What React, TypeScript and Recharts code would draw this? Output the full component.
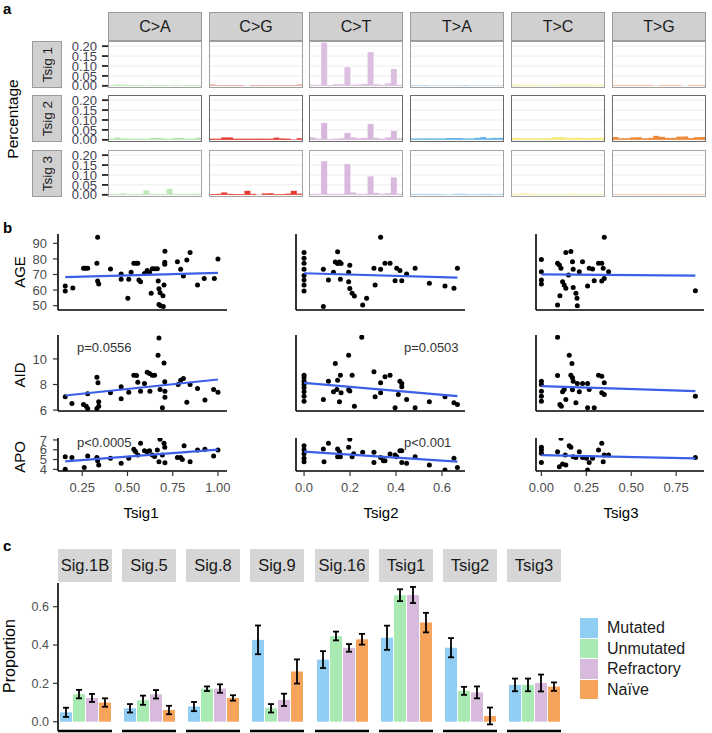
import React from "react";
import { BarChart, Bar, XAxis, YAxis, CartesianGrid, ScatterChart, Scatter, ErrorBar } from "recharts";

const FONT = "'Liberation Sans', Arial, Helvetica, sans-serif";
const TICK = "#4d4d4d";

// ---------------- Panel a data ----------------
const mutationTypes = ["C>A", "C>G", "C>T", "T>A", "T>C", "T>G"];
const signatureRows = ["Tsig 1", "Tsig 2", "Tsig 3"];
const flankBases = ["A", "C", "G", "T"];
const percentTicks = [0, 0.05, 0.1, 0.15, 0.2];

const tsig1CA = [0.005, 0.008, 0.007, 0.005, 0.005, 0.005, 0.002, 0.005, 0.005, 0.005, 0.002, 0.005, 0.002, 0.005, 0.005, 0.005];
const tsig1CG = [0.007, 0.004, 0.004, 0.004, 0.004, 0.004, 0.0, 0.004, 0.004, 0.004, 0.004, 0.004, 0.004, 0.004, 0.004, 0.007];
const tsig1CT = [0.006, 0.005, 0.218, 0.004, 0.008, 0.008, 0.094, 0.006, 0.007, 0.01, 0.17, 0.008, 0.005, 0.012, 0.085, 0.005];
const tsig1TA = [0.004, 0.004, 0.004, 0.002, 0.002, 0.002, 0.002, 0.002, 0.002, 0.004, 0.002, 0.002, 0.002, 0.002, 0.002, 0.002];
const tsig1TC = [0.006, 0.006, 0.006, 0.006, 0.004, 0.003, 0.003, 0.004, 0.006, 0.006, 0.006, 0.006, 0.006, 0.006, 0.005, 0.006];
const tsig1TG = [0.005, 0.005, 0.005, 0.005, 0.005, 0.005, 0.005, 0.0, 0.005, 0.005, 0.005, 0.005, 0.0, 0.005, 0.005, 0.005];

const tsig2CA = [0.006, 0.011, 0.007, 0.006, 0.006, 0.006, 0.005, 0.009, 0.01, 0.007, 0.005, 0.009, 0.01, 0.006, 0.006, 0.011];
const tsig2CG = [0.006, 0.006, 0.012, 0.012, 0.006, 0.006, 0.006, 0.006, 0.006, 0.006, 0.006, 0.011, 0.007, 0.006, 0.002, 0.008];
const tsig2CT = [0.012, 0.006, 0.085, 0.004, 0.006, 0.008, 0.035, 0.012, 0.008, 0.01, 0.08, 0.01, 0.006, 0.012, 0.045, 0.008];
const tsig2TA = [0.007, 0.007, 0.007, 0.007, 0.007, 0.007, 0.009, 0.009, 0.009, 0.007, 0.007, 0.01, 0.014, 0.008, 0.01, 0.01];
const tsig2TC = [0.01, 0.009, 0.008, 0.008, 0.008, 0.008, 0.009, 0.013, 0.014, 0.011, 0.01, 0.011, 0.009, 0.01, 0.01, 0.011];
const tsig2TG = [0.014, 0.008, 0.008, 0.012, 0.013, 0.008, 0.01, 0.02, 0.015, 0.01, 0.01, 0.016, 0.017, 0.009, 0.013, 0.014];

const tsig3CA = [0.005, 0.005, 0.007, 0.003, 0.004, 0.005, 0.022, 0.005, 0.004, 0.005, 0.03, 0.005, 0.004, 0.004, 0.005, 0.006];
const tsig3CG = [0.004, 0.005, 0.012, 0.005, 0.004, 0.004, 0.02, 0.005, 0.001, 0.007, 0.008, 0.004, 0.004, 0.006, 0.02, 0.006];
const tsig3CT = [0.005, 0.005, 0.17, 0.005, 0.005, 0.005, 0.155, 0.012, 0.005, 0.005, 0.093, 0.01, 0.005, 0.008, 0.088, 0.006];
const tsig3TA = [0.005, 0.005, 0.005, 0.005, 0.005, 0.004, 0.002, 0.005, 0.006, 0.005, 0.003, 0.004, 0.005, 0.005, 0.003, 0.005];
const tsig3TC = [0.005, 0.006, 0.008, 0.005, 0.004, 0.004, 0.004, 0.004, 0.004, 0.004, 0.006, 0.004, 0.004, 0.004, 0.004, 0.004];
const tsig3TG = [0.004, 0.004, 0.004, 0.004, 0.004, 0.004, 0.004, 0.004, 0.004, 0.004, 0.004, 0.004, 0.004, 0.004, 0.004, 0.004];

const spectrumRows = [
  [tsig1CA, tsig1CG, tsig1CT, tsig1TA, tsig1TC, tsig1TG],
  [tsig2CA, tsig2CG, tsig2CT, tsig2TA, tsig2TC, tsig2TG],
  [tsig3CA, tsig3CG, tsig3CT, tsig3TA, tsig3TC, tsig3TG],
];

const spectrumColors = [
  ["#c3eabc", "#eda198", "#dcbfe0", "#abd4f2", "#f7f1a0", "#f4c2a4"],
  ["#b1e4aa", "#e2392e", "#d7b7db", "#63b2ea", "#f4ea7a", "#ef8836"],
  ["#bde8b6", "#e5392d", "#d9bade", "#a5d2f1", "#f7f1a0", "#f4c2a4"],
];
const rowBorder = ["#a0a0a0", "#6a6a6a", "#a4a4a4"];

// ---------------- Panel b data ----------------
const clinicalVars = ["AGE", "AID", "APO"];
const tsigNames = ["Tsig1", "Tsig2", "Tsig3"];

const ageTsig1 = [[0.156,62.6],[0.156,59.4],[0.198,61.3],[0.257,74],[0.269,74],[0.28,74],[0.335,93.9],[0.331,77.2],[0.335,65.8],[0.341,63.9],[0.406,73.5],[0.465,70.3],[0.465,67],[0.507,67],[0.52,71.4],[0.535,77.2],[0.548,77.2],[0.557,77.2],[0.502,54.7],[0.563,66.5],[0.572,65.4],[0.594,70.7],[0.609,72.5],[0.622,71.4],[0.637,73.7],[0.65,73.7],[0.665,73.7],[0.631,57.9],[0.67,65.8],[0.674,60.9],[0.68,58.3],[0.696,56.4],[0.674,50.8],[0.683,50],[0.698,49.4],[0.707,85],[0.706,77.8],[0.706,76.5],[0.702,63.3],[0.776,78.2],[0.794,73.3],[0.809,69],[0.828,79.3],[0.846,84.2],[0.887,63.3],[0.924,67.5],[0.98,67.5],[1.0,80]];
const aidTsig1 = [[0.156,7.04],[0.193,6.52],[0.257,6.44],[0.272,6.31],[0.28,6.13],[0.28,7.27],[0.331,6.13],[0.341,6.31],[0.331,8.57],[0.337,8.13],[0.341,6.65],[0.406,7.35],[0.465,7.82],[0.465,6.88],[0.507,7.4],[0.535,8.73],[0.55,8.7],[0.557,8.18],[0.572,7.48],[0.594,8.08],[0.609,8.96],[0.622,8.86],[0.637,8.73],[0.65,8.73],[0.624,7.48],[0.669,10.29],[0.674,11.64],[0.68,7.61],[0.693,6.18],[0.702,9.69],[0.706,8.21],[0.707,7.48],[0.707,7.01],[0.78,8.0],[0.794,8.34],[0.809,8.47],[0.828,6.62],[0.846,8.0],[0.887,7.69],[0.928,6.78],[0.976,7.61],[1.0,7.4]];
const apoTsig1 = [[0.156,5.29],[0.156,4.0],[0.193,5.22],[0.261,4.2],[0.28,5.36],[0.331,5.22],[0.335,4.88],[0.341,4.44],[0.406,5.12],[0.465,4.61],[0.507,5.12],[0.535,6.04],[0.544,5.81],[0.557,5.46],[0.572,6.66],[0.594,5.9],[0.609,5.8],[0.622,5.9],[0.637,5.46],[0.65,5.3],[0.665,5.98],[0.68,7.07],[0.674,4.78],[0.693,5.46],[0.702,6.66],[0.706,6.25],[0.707,4.68],[0.776,5.22],[0.794,5.22],[0.803,5.0],[0.813,6.42],[0.846,4.78],[0.887,5.98],[0.928,6.04],[0.976,5.36],[1.0,5.98]];

const ageTsig2 = [[0,84.2],[0,80.4],[0,77.2],[0,73.3],[0,69.3],[0,66.5],[0,63.3],[0,59.4],[0.084,73.3],[0.106,66.5],[0.128,71.4],[0.136,78],[0.146,84.6],[0.154,78],[0.161,77],[0.146,77],[0.158,67],[0.194,71.4],[0.199,76],[0.194,65.4],[0.199,61],[0.209,57.9],[0.219,56.2],[0.084,49.4],[0.255,50.4],[0.272,54.7],[0.304,74],[0.309,63.3],[0.333,93.9],[0.333,73.3],[0.352,77.2],[0.374,77.2],[0.396,66],[0.403,74],[0.417,72.5],[0.425,66],[0.446,70.3],[0.483,74],[0.545,64.3],[0.613,62.6],[0.652,61.1],[0.667,74]];
const aidTsig2 = [[0,8.73],[0,8.52],[0,8.26],[0,8.0],[0,7.74],[0,7.43],[0,7.09],[0,6.7],[0.084,6.83],[0.106,8.26],[0.128,7.43],[0.143,7.61],[0.146,8.34],[0.136,9.64],[0.158,8.73],[0.154,6.65],[0.161,7.35],[0.194,10.29],[0.194,7.6],[0.199,7.5],[0.209,8.73],[0.219,6.3],[0.251,11.7],[0.304,9.0],[0.333,8.13],[0.309,7.04],[0.333,7.35],[0.352,8.6],[0.374,8.73],[0.396,6.18],[0.417,8.26],[0.425,8.08],[0.425,7.82],[0.41,7.22],[0.446,6.83],[0.483,6.18],[0.545,6.65],[0.613,7.04],[0.652,6.57],[0.667,6.44]];
const apoTsig2 = [[0,6.42],[0,6.0],[0,5.6],[0,5.12],[0,4.78],[0.084,6.08],[0.087,4.78],[0.106,6.66],[0.146,5.29],[0.146,6.08],[0.154,5.8],[0.158,5.29],[0.194,6.25],[0.199,7.07],[0.209,5.29],[0.216,5.6],[0.255,5.74],[0.304,5.74],[0.304,4.71],[0.333,5.22],[0.345,4.88],[0.352,4.88],[0.374,5.57],[0.396,5.46],[0.403,5.29],[0.417,5.9],[0.425,5.9],[0.425,4.71],[0.446,4.61],[0.483,5.29],[0.545,4.44],[0.613,3.93],[0.652,5.12],[0.667,4.2]];

const ageTsig3 = [[0,79.7],[0,71.8],[0,66.5],[0,63.9],[0.09,77.2],[0.1,76.1],[0.109,74],[0.09,50.4],[0.103,56.4],[0.118,65.4],[0.127,63.3],[0.136,61.1],[0.136,84.2],[0.164,84.7],[0.151,69.7],[0.173,78.2],[0.177,73.3],[0.177,61.7],[0.192,57.9],[0.198,54.7],[0.2,50],[0.211,71.8],[0.229,78.2],[0.257,62.6],[0.266,74],[0.285,73.5],[0.294,66],[0.318,77.2],[0.336,77.2],[0.344,74],[0.336,65.8],[0.35,67.5],[0.35,93.9],[0.374,71.8],[0.857,59.6]];
const aidTsig3 = [[0,8.26],[0,8.0],[0,7.48],[0,7.09],[0,6.7],[0.09,11.69],[0.09,8.7],[0.103,6.44],[0.111,6.31],[0.118,7.43],[0.127,7.61],[0.136,6.83],[0.155,10.29],[0.17,9.64],[0.164,8.73],[0.173,8.52],[0.177,8.26],[0.173,7.6],[0.192,6.57],[0.2,8.08],[0.211,7.43],[0.229,8.08],[0.257,8.08],[0.257,6.18],[0.294,6.18],[0.266,7.61],[0.318,8.73],[0.336,8.65],[0.336,7.35],[0.35,8.13],[0.35,7.22],[0.857,7.09]];
const apoTsig3 = [[0,6.25],[0,5.98],[0,5.63],[0,4.71],[0.109,7.17],[0.09,5.8],[0.1,4.27],[0.118,4.54],[0.136,4.44],[0.133,5.46],[0.155,6.42],[0.164,6.25],[0.177,5.29],[0.192,5.22],[0.211,5.8],[0.229,5.22],[0.251,5.12],[0.257,3.93],[0.266,4.71],[0.285,5.12],[0.318,5.98],[0.336,6.66],[0.344,4.78],[0.35,5.46],[0.374,5.46],[0.857,5.22]];

const ageFit1 = [[0.156, 68.3], [1.0, 71.0]];
const aidFit1 = [[0.156, 7.14], [1.0, 8.39]];
const apoFit1 = [[0.156, 4.82], [1.0, 6.02]];
const ageFit2 = [[0, 70.8], [0.667, 68.0]];
const aidFit2 = [[0, 8.13], [0.667, 7.09]];
const apoFit2 = [[0, 5.8], [0.667, 4.78]];
const ageFit3 = [[0, 70.1], [0.857, 69.3]];
const aidFit3 = [[0, 7.87], [0.857, 7.48]];
const apoFit3 = [[0, 5.46], [0.857, 5.12]];

const scatterGrid = [
  [ageTsig1, ageTsig2, ageTsig3],
  [aidTsig1, aidTsig2, aidTsig3],
  [apoTsig1, apoTsig2, apoTsig3],
];
const fitGrid = [
  [ageFit1, ageFit2, ageFit3],
  [aidFit1, aidFit2, aidFit3],
  [apoFit1, apoFit2, apoFit3],
];
const pLabels = [
  { row: 1, col: 0, text: "p=0.0556" },
  { row: 2, col: 0, text: "p<0.0005" },
  { row: 1, col: 1, text: "p=0.0503" },
  { row: 2, col: 1, text: "p<0.001" },
];

const xTicksB = [[0.25, 0.5, 0.75, 1.0], [0, 0.2, 0.4, 0.6], [0, 0.25, 0.5, 0.75]];
const xDigitsB = [2, 1, 2];
const yTicksB = [[50, 60, 70, 80, 90], [6, 8, 10], [4, 5, 6, 7]];

// ---------------- Panel c data ----------------
const groupNames = ["Mutated", "Unmutated", "Refractory", "Naïve"];
const groupColors = ["#8fcdf2", "#a9eab2", "#d8badd", "#f6a35c"];
const sigFacets = ["Sig.1B", "Sig.5", "Sig.8", "Sig.9", "Sig.16", "Tsig1", "Tsig2", "Tsig3"];
const mutatedMean = [0.049, 0.07, 0.079, 0.427, 0.324, 0.438, 0.386, 0.192];
const mutatedErr = [0.024, 0.022, 0.024, 0.075, 0.044, 0.063, 0.05, 0.033];
const unmutatedMean = [0.144, 0.112, 0.172, 0.07, 0.447, 0.66, 0.161, 0.192];
const unmutatedErr = [0.022, 0.024, 0.012, 0.022, 0.023, 0.031, 0.021, 0.033];
const refractoryMean = [0.124, 0.143, 0.173, 0.114, 0.385, 0.661, 0.153, 0.202];
const refractoryErr = [0.021, 0.022, 0.022, 0.032, 0.02, 0.042, 0.031, 0.044];
const naiveMean = [0.1, 0.061, 0.124, 0.262, 0.43, 0.517, 0.03, 0.183];
const naiveErr = [0.022, 0.022, 0.014, 0.063, 0.028, 0.051, 0.044, 0.022];
const proportionTicks = [0, 0.2, 0.4, 0.6];

// ---------------- Layout ----------------
const A_COL_X = [108, 209, 309, 410, 511, 612];
const A_ROW_Y = [41, 95, 150];
const A_W = 94;
const A_H = 47;

const B_COL_X = [58, 296, 536];
const B_COL_W = [169, 169, 168];
const B_ROW_Y = [234, 335, 438];
const B_ROW_H = [76, 76, 33];
const B_XDOM = [[0.116, 1.05], [-0.035, 0.7], [-0.03, 0.905]];
const B_YDOM = [[47.2, 96], [5.93, 11.87], [3.83, 7.2]];

const C_X = [58, 122, 186, 250, 315, 379, 443, 507];
const C_W = 54;
const C_TOP = 583;
const C_H = 148;

type TxtProps = { x: number; y: number; size: number; children: React.ReactNode; rotate?: number; anchor?: string; color?: string; weight?: number };
const Txt = ({ x, y, size, children, rotate, anchor = "middle", color = "#000", weight }: TxtProps) => {
  const tx = anchor === "middle" ? "-50%" : anchor === "start" ? "0%" : "-100%";
  return (
    <div
      style={{
        position: "absolute", left: x, top: y, fontSize: size, lineHeight: 1, whiteSpace: "nowrap", color,
        fontWeight: weight, transform: `translate(${tx},-50%)${rotate ? ` rotate(${rotate}deg)` : ""}`,
      }}
    >
      {children}
    </div>
  );
};

const contextLabels = (mut: string) => flankBases.flatMap((a) => flankBases.map((b) => `${a}[${mut}]${b}`));

function SpectrumCell({ row, col }: { row: number; col: number }) {
  const values = spectrumRows[row][col];
  const labels = contextLabels(mutationTypes[col]);
  const data = values.map((v, i) => ({ ctx: labels[i], v }));
  const showAxis = col === 0;
  const yw = showAxis ? 42 : 0;
  const pad = 8;
  const x = A_COL_X[col];
  const y = A_ROW_Y[row];
  return (
    <>
      <div style={{ position: "absolute", left: x - yw, top: y - pad }}>
        <BarChart width={A_W + yw} height={A_H + 2 * pad} data={data} margin={{ top: pad, right: 0, bottom: pad, left: 0 }} barCategoryGap={0} barGap={0}>
          <CartesianGrid vertical={false} stroke="#ececec" strokeWidth={1} horizontalValues={percentTicks} />
          <XAxis dataKey="ctx" hide padding={{ left: 0.6, right: 0.6 }} />
          <YAxis
            type="number"
            hide={!showAxis}
            width={yw}
            domain={[-0.011, 0.226]}
            allowDataOverflow
            ticks={percentTicks}
            interval={0}
            tickFormatter={(v: number) => v.toFixed(2)}
            tick={{ fill: "#3f4250", fontSize: 13, fontFamily: FONT }}
            tickLine={{ stroke: "#222", strokeWidth: 1.8 }}
            tickSize={6}
            tickMargin={5}
            axisLine={false}
          />
          <Bar dataKey="v" fill={spectrumColors[row][col]} isAnimationActive={false} />
        </BarChart>
      </div>
      <div
        style={{
          position: "absolute", left: x, top: y, width: A_W, height: A_H, boxSizing: "border-box",
          border: `1.6px solid ${rowBorder[row]}`, pointerEvents: "none",
        }}
      />
    </>
  );
}

const dotShape = (props: any) => <circle cx={props.cx} cy={props.cy} r={2.5} fill="#000" />;
const noShape = () => <g />;

function CorrCell({ row, col }: { row: number; col: number }) {
  const px = B_COL_X[col];
  const pw = B_COL_W[col];
  const py = B_ROW_Y[row];
  const ph = B_ROW_H[row];
  const showY = col === 0;
  const showX = row === 2;
  const m = 8;
  const ml = showX ? 16 : m;
  const yw = showY ? 44 : 1;
  const xh = showX ? 24 : 1;
  const pts = scatterGrid[row][col].map(([x, y]) => ({ x, y }));
  const fit = fitGrid[row][col].map(([x, y]) => ({ x, y }));
  return (
    <div style={{ position: "absolute", left: px - yw - ml, top: py - m }}>
      <ScatterChart width={pw + yw + ml + m} height={ph + xh + 2 * m} margin={{ top: m, right: m, bottom: m, left: ml }}>
        <XAxis
          type="number"
          dataKey="x"
          domain={B_XDOM[col]}
          allowDataOverflow
          ticks={xTicksB[col]}
          interval={0}
          height={xh}
          tickFormatter={(v: number) => v.toFixed(xDigitsB[col])}
          tick={showX ? { fill: TICK, fontSize: 13, fontFamily: FONT } : false}
          tickLine={showX ? { stroke: "#333", strokeWidth: 1.2 } : false}
          tickSize={5}
          tickMargin={7}
          axisLine={{ stroke: "#000", strokeWidth: 1.6 }}
        />
        <YAxis
          type="number"
          dataKey="y"
          domain={B_YDOM[row]}
          allowDataOverflow
          ticks={yTicksB[row]}
          interval={0}
          width={yw}
          tick={showY ? { fill: TICK, fontSize: 13, fontFamily: FONT } : false}
          tickLine={showY ? { stroke: "#333", strokeWidth: 1.2 } : false}
          tickSize={5}
          tickMargin={6}
          axisLine={{ stroke: "#000", strokeWidth: 1.6 }}
        />
        <Scatter data={pts} shape={dotShape} isAnimationActive={false} />
        <Scatter data={fit} shape={noShape} line={{ stroke: "#3b5fe6", strokeWidth: 2.2 }} isAnimationActive={false} />
      </ScatterChart>
    </div>
  );
}

function GroupFacet({ idx }: { idx: number }) {
  const first = idx === 0;
  const yw = first ? 40 : 0;
  const m = 6;
  const row = {
    sig: sigFacets[idx],
    mutated: mutatedMean[idx], mutatedE: mutatedErr[idx],
    unmutated: unmutatedMean[idx], unmutatedE: unmutatedErr[idx],
    refractory: refractoryMean[idx], refractoryE: refractoryErr[idx],
    naive: naiveMean[idx], naiveE: naiveErr[idx],
  };
  const keys = ["mutated", "unmutated", "refractory", "naive"];
  return (
    <div style={{ position: "absolute", left: C_X[idx] - yw - m, top: C_TOP - m }}>
      <BarChart width={C_W + yw + 2 * m} height={C_H + 1 + 2 * m} data={[row]} margin={{ top: m, right: m, bottom: m, left: m }} barCategoryGap={2} barGap={1}>
        <XAxis dataKey="sig" tick={false} tickLine={false} height={1} axisLine={{ stroke: "#000", strokeWidth: 2.4 }} />
        <YAxis
          type="number"
          hide={!first}
          width={yw}
          domain={[-0.0485, 0.7236]}
          allowDataOverflow
          ticks={proportionTicks}
          interval={0}
          tickFormatter={(v: number) => v.toFixed(1)}
          tick={{ fill: TICK, fontSize: 12.5, fontFamily: FONT }}
          tickLine={{ stroke: "#333", strokeWidth: 1.2 }}
          tickSize={5}
          tickMargin={4}
          axisLine={{ stroke: "#000", strokeWidth: 1.6 }}
        />
        {keys.map((k, i) => (
          <Bar key={k} dataKey={k} fill={groupColors[i]} isAnimationActive={false}>
            <ErrorBar dataKey={`${k}E`} width={3} strokeWidth={1.8} stroke="#000" direction="y" />
          </Bar>
        ))}
      </BarChart>
    </div>
  );
}

export default function App() {
  return (
    <div style={{ position: "absolute", left: 0, top: 0, width: 712, height: 733, background: "#fff", fontFamily: FONT, overflow: "hidden" }}>
      {/* Panel a */}
      <Txt x={3} y={7.5} size={15} anchor="start" weight={700}>a</Txt>
      <Txt x={12.5} y={118.5} size={15.5} rotate={-90}>Percentage</Txt>
      {mutationTypes.map((mt, c) => (
        <div
          key={mt}
          style={{
            position: "absolute", left: A_COL_X[c], top: 12, width: A_W, height: 29, boxSizing: "border-box",
            background: "#d0d0d0", border: "1.2px solid #9a9a9a", display: "flex", alignItems: "center",
            justifyContent: "center", fontSize: 16, color: "#1a1a1a",
          }}
        >
          {mt}
        </div>
      ))}
      {signatureRows.map((s, r) => (
        <div
          key={s}
          style={{
            position: "absolute", left: 32, top: A_ROW_Y[r], width: 30, height: A_H, boxSizing: "border-box",
            background: "#d0d0d0", border: "1.2px solid #9a9a9a", display: "flex", alignItems: "center",
            justifyContent: "center",
          }}
        >
          <div style={{ writingMode: "vertical-rl", transform: "rotate(180deg)", fontSize: 13.5, color: "#1a1a1a", whiteSpace: "nowrap" }}>{s}</div>
        </div>
      ))}
      {signatureRows.map((s, r) => mutationTypes.map((mt, c) => <SpectrumCell key={`${s}-${mt}`} row={r} col={c} />))}

      {/* Panel b */}
      <Txt x={3} y={227} size={15} anchor="start" weight={700}>b</Txt>
      {clinicalVars.map((v, r) => (
        <Txt key={v} x={18.5} y={[272, 375, 456.5][r]} size={15} rotate={-90}>{v}</Txt>
      ))}
      {clinicalVars.map((v, r) => tsigNames.map((t, c) => <CorrCell key={`${v}-${t}`} row={r} col={c} />))}
      {pLabels.map((p) => (
        <Txt key={p.text} x={p.col === 0 ? 77 : 404} y={p.row === 1 ? 347 : 442} size={13} anchor="start" color="#333">{p.text}</Txt>
      ))}
      {tsigNames.map((t, c) => (
        <Txt key={t} x={[141, 381, 621][c]} y={512} size={15}>{t}</Txt>
      ))}

      {/* Panel c */}
      <Txt x={3} y={545} size={15} anchor="start" weight={700}>c</Txt>
      <Txt x={10} y={656} size={16} rotate={-90}>Proportion</Txt>
      {sigFacets.map((s, i) => (
        <div
          key={s}
          style={{
            position: "absolute", left: C_X[i], top: 549, width: C_W, height: 33, background: "#d6d6d6",
            display: "flex", alignItems: "center", justifyContent: "center", fontSize: 16.5, color: "#1a1a1a",
          }}
        >
          {s}
        </div>
      ))}
      {sigFacets.map((s, i) => <GroupFacet key={s} idx={i} />)}
      {groupNames.map((g, i) => (
        <React.Fragment key={g}>
          <div style={{ position: "absolute", left: 580, top: 618 + i * 20.5, width: 18, height: 19.5, background: groupColors[i] }} />
          <Txt x={607} y={628 + i * 20.7} size={16} anchor="start" color="#1a1a1a">{g}</Txt>
        </React.Fragment>
      ))}
    </div>
  );
}
